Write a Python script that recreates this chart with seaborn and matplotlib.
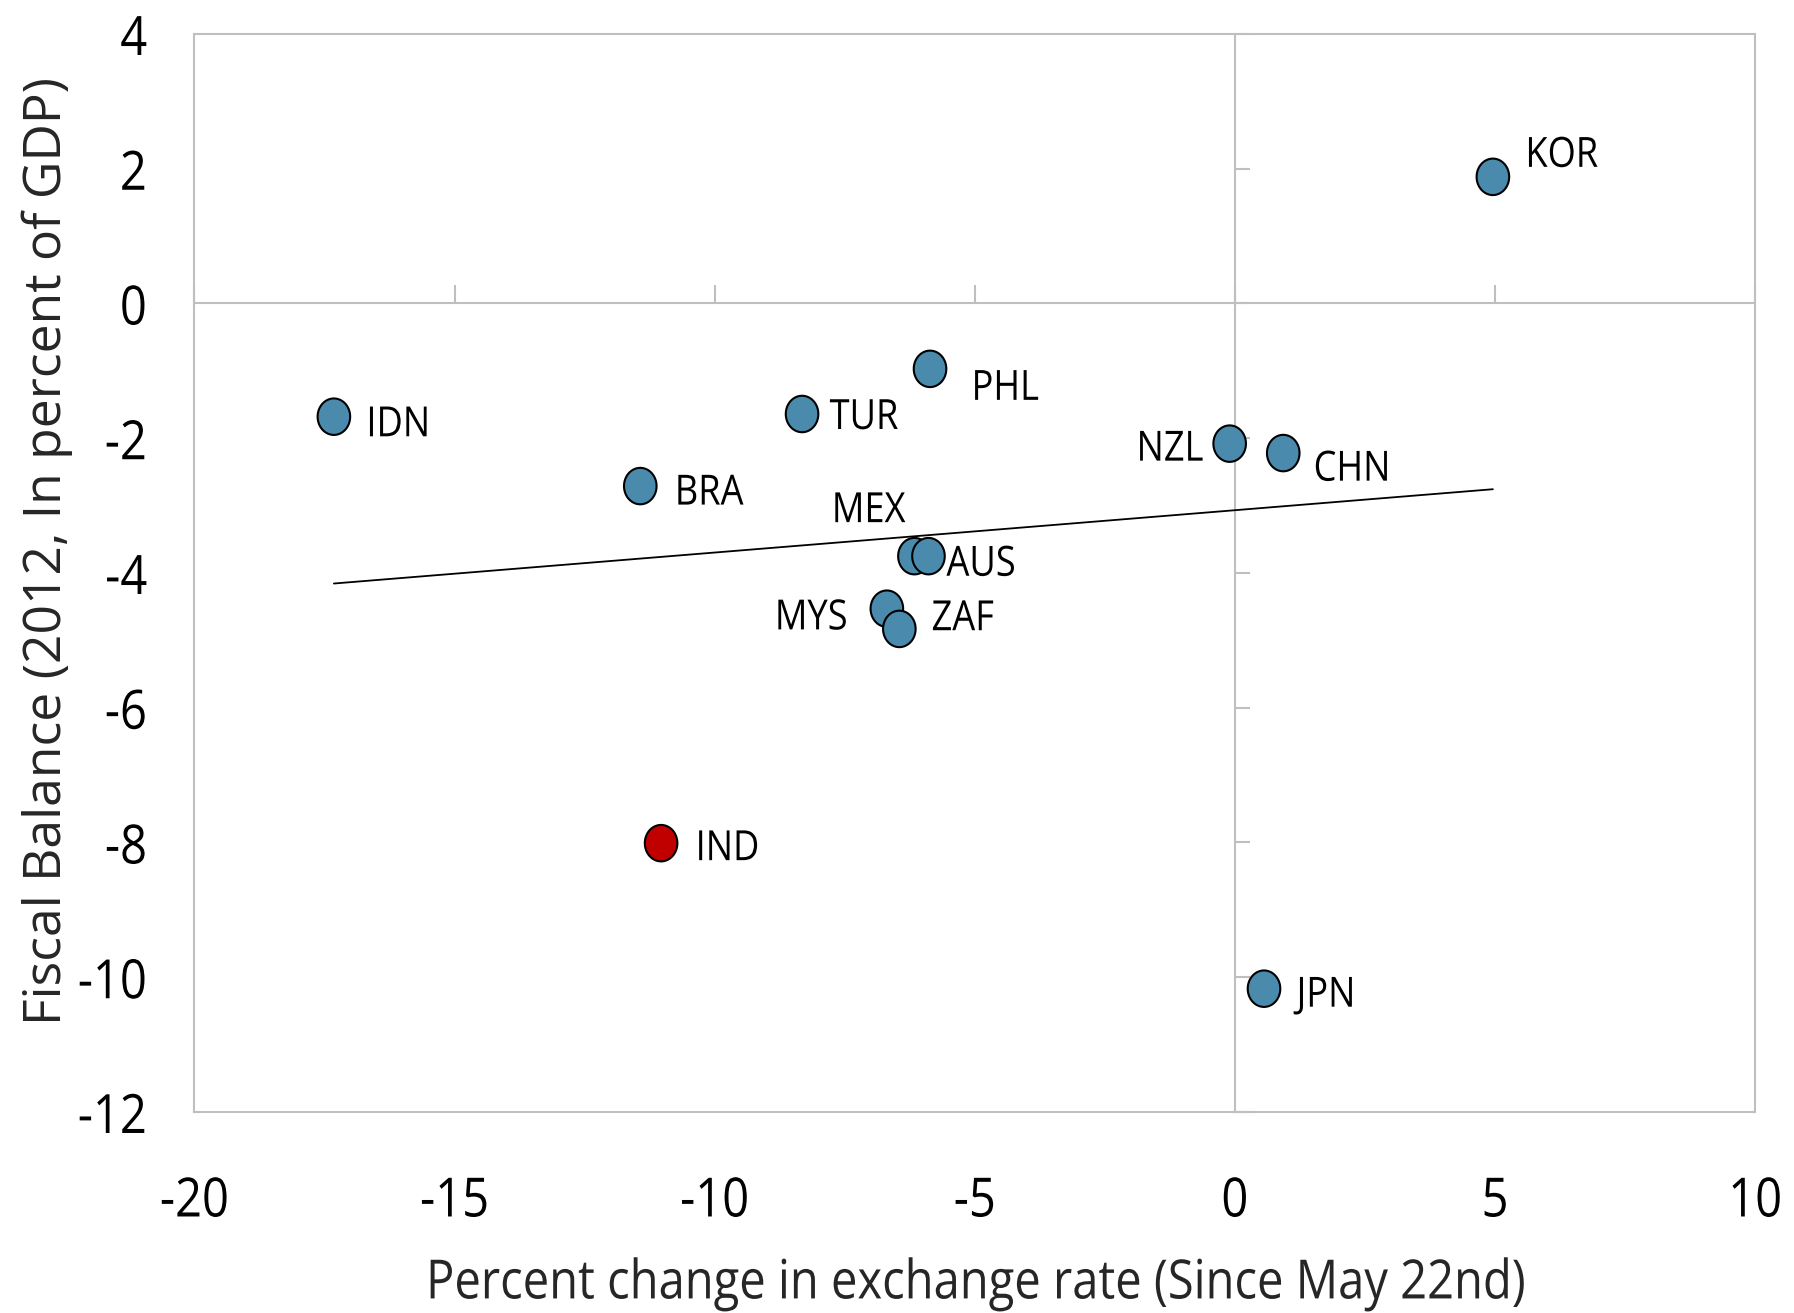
import numpy as np
import pandas as pd
import matplotlib
matplotlib.use("Agg")
import matplotlib.pyplot as plt
import seaborn as sns
from matplotlib.path import Path
from matplotlib.markers import MarkerStyle, TICKUP, TICKRIGHT
from matplotlib.patheffects import AbstractPathEffect
from matplotlib.transforms import Affine2D

# --- data -------------------------------------------------------------
countries = ["IDN", "BRA", "TUR", "PHL", "NZL", "CHN", "KOR",
             "MEX", "AUS", "MYS", "ZAF", "IND", "JPN"]
fx_change = [-17.32, -11.43, -8.32, -5.86, -0.10, 0.93, 4.96,
             -6.16, -5.89, -6.69, -6.45, -11.03, 0.56]
fiscal_balance = [-1.68, -2.71, -1.64, -0.97, -2.08, -2.22, 1.88,
                  -3.75, -3.75, -4.53, -4.83, -8.01, -10.17]
highlight = "IND"

x_ticks = [-20, -15, -10, -5, 0, 5, 10]
y_ticks = [4, 2, 0, -2, -4, -6, -8, -10, -12]

# --- label placement (offset in pixels, horizontal alignment) ---------
label_style = {
    "IDN": (32, -19.6, "left"), "BRA": (34, -18.5, "left"),
    "TUR": (27.5, -15, "left"), "PHL": (41, -31, "left"),
    "NZL": (-26, -17, "right"), "CHN": (30, -27.6, "left"),
    "KOR": (32, 10, "left"), "MEX": (-46, 34, "center"),
    "AUS": (18, -19.6, "left"), "MYS": (-39, -20.7, "right"),
    "ZAF": (32, -1.3, "left"), "IND": (34, -17, "left"),
    "JPN": (33, -18, "left"),
}

BLUE = "#4A8BAD"
RED = "#C00000"
GRAY = "#BFBFBF"


class Narrow(AbstractPathEffect):
    """Draw text glyphs horizontally condensed about an anchor edge."""

    def __init__(self, factor=0.87, anchor="center"):
        super().__init__()
        self.factor = factor
        self.anchor = anchor

    def draw_path(self, renderer, gc, tpath, affine, rgbFace=None):
        ext = tpath.transformed(affine).get_extents()
        if self.anchor == "left":
            ax0 = ext.x0
        elif self.anchor == "right":
            ax0 = ext.x1
        else:
            ax0 = 0.5 * (ext.x0 + ext.x1)
        squeeze = Affine2D().translate(-ax0, 0).scale(self.factor, 1).translate(ax0, 0)
        renderer.draw_path(gc, tpath, affine + squeeze, rgbFace)


df = pd.DataFrame({"country": countries, "fx": fx_change, "fb": fiscal_balance})
df["group"] = np.where(df["country"] == highlight, "hl", "other")

sns.set_theme(style="white")
plt.rcParams["font.family"] = ["Open Sans", "DejaVu Sans"]

fig = plt.figure(figsize=(17.94, 13.13), dpi=100)
ax = fig.add_axes([0.1084, 0.1531, 0.8699, 0.8210])

# slightly tall ellipse marker
t = np.linspace(0, 2 * np.pi, 65)
ell = Path(np.column_stack([np.cos(t), 1.12 * np.sin(t)]), closed=True)
ell_marker = MarkerStyle(ell)

# axis cross lines with their tick marks
ax.axhline(0, color=GRAY, lw=1.5, zorder=1)
ax.axvline(0, color=GRAY, lw=1.5, zorder=1)
ax.plot(x_ticks, np.zeros(len(x_ticks)), ls="none", marker=TICKUP,
        ms=13, mew=1.5, color=GRAY, zorder=1, clip_on=False)
ax.plot(np.zeros(len(y_ticks)), y_ticks, ls="none", marker=TICKRIGHT,
        ms=11, mew=1.5, color=GRAY, zorder=1, clip_on=False)

# linear trend over all countries
sns.regplot(data=df, x="fx", y="fb", scatter=False, ci=None, truncate=True,
            line_kws=dict(color="black", lw=1.3, zorder=2), ax=ax)

sns.scatterplot(data=df, x="fx", y="fb", hue="group",
                palette={"other": BLUE, "hl": RED}, marker=ell_marker,
                s=690, edgecolor="black", linewidth=1.5, legend=False,
                zorder=3, ax=ax)

for name, xv, yv in zip(countries, fx_change, fiscal_balance):
    dx, dy, ha = label_style[name]
    ax.annotate(name, (xv, yv), xytext=(dx, dy), textcoords="offset pixels",
                ha=ha, va="baseline", fontsize=30, color="black", zorder=4,
                path_effects=[Narrow(0.87, ha)])

ax.set_xlim(x_ticks[0], x_ticks[-1])
ax.set_ylim(y_ticks[-1], y_ticks[0])
ax.set_xticks(x_ticks)
ax.set_yticks(y_ticks)
ax.set_xticklabels([str(v) for v in x_ticks])
ax.set_yticklabels([str(v) for v in y_ticks])
ax.tick_params(axis="both", length=0, labelsize=39, colors="black")
ax.tick_params(axis="x", pad=45)
ax.tick_params(axis="y", pad=34)
for lbl in ax.get_xticklabels():
    lbl.set_path_effects([Narrow(0.87, "center")])
for lbl in ax.get_yticklabels():
    lbl.set_path_effects([Narrow(0.87, "right")])

for sp in ax.spines.values():
    sp.set_visible(True)
    sp.set_color(GRAY)
    sp.set_linewidth(1.5)

ax.set_xlabel("Percent change in exchange rate (Since May 22nd)",
              fontsize=39, va="top", path_effects=[Narrow(0.87, "center")])
ax.xaxis.set_label_coords(0.5, -0.134)
ax.set_ylabel("Fiscal Balance (2012, In percent of GDP)", fontsize=37.2)
ax.yaxis.set_label_coords(-0.078, 0.52)

fig.savefig("out.png", dpi=100, facecolor="white")
